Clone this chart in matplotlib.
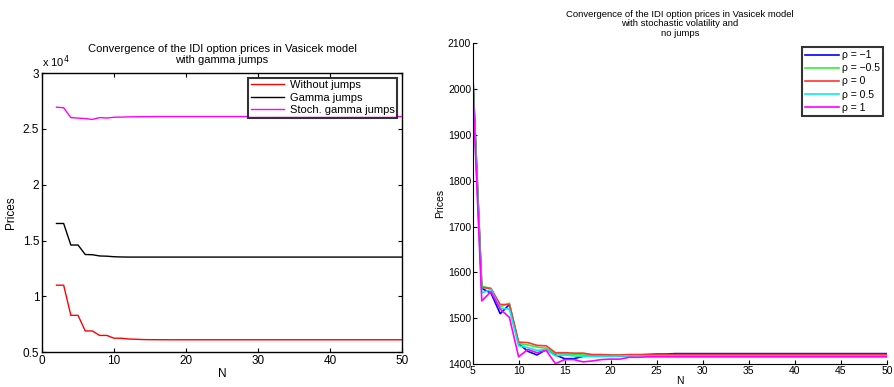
import matplotlib
matplotlib.use("Agg")
import matplotlib.pyplot as plt
from matplotlib.ticker import FuncFormatter

# left panel: IDI option prices with gamma jumps, N = 2..50
n_left = list(range(2, 51))
without_jumps = [11000, 11000, 8300, 8300, 6900, 6900, 6500, 6500, 6250, 6250,
                 6180, 6160, 6130, 6120, 6115, 6112, 6110, 6110, 6110, 6110,
                 6110, 6110, 6110, 6110, 6110, 6110, 6110, 6110, 6110, 6110,
                 6110, 6110, 6110, 6110, 6110, 6110, 6110, 6110, 6110, 6110,
                 6110, 6110, 6110, 6110, 6110, 6110, 6110, 6110, 6110]
gamma_jumps = [16530, 16530, 14600, 14600, 13750, 13730, 13620, 13600, 13550, 13530,
               13520, 13520, 13520, 13520, 13520, 13520, 13520, 13520, 13520, 13520,
               13520, 13520, 13520, 13520, 13520, 13520, 13520, 13520, 13520, 13520,
               13520, 13520, 13520, 13520, 13520, 13520, 13520, 13520, 13520, 13520,
               13520, 13520, 13520, 13520, 13520, 13520, 13520, 13520, 13520]
stoch_gamma = [26950, 26900, 26020, 25970, 25930, 25850, 26020, 25980, 26050, 26060,
               26080, 26090, 26100, 26100, 26110, 26110, 26110, 26110, 26110, 26110,
               26110, 26110, 26110, 26110, 26110, 26110, 26110, 26110, 26110, 26110,
               26110, 26110, 26110, 26110, 26110, 26110, 26110, 26110, 26110, 26110,
               26110, 26110, 26110, 26110, 26110, 26110, 26110, 26110, 26110]
left_labels = ["Without jumps", "Gamma jumps", "Stoch. gamma jumps"]
left_colors = ["#ff0000", "#000000", "#ff00ff"]

# right panel: stochastic volatility, no jumps, N = 5..50
n_right = list(range(5, 51))
rho_m1 = [2045, 1565, 1555, 1510, 1530, 1445, 1428, 1420, 1432, 1420,
          1412, 1412, 1417, 1418, 1418, 1418, 1418, 1419, 1420, 1421,
          1422, 1422, 1423, 1423, 1423, 1423, 1423, 1423, 1423, 1423,
          1423, 1423, 1423, 1423, 1423, 1423, 1423, 1423, 1423, 1423,
          1423, 1423, 1423, 1423, 1423, 1423]
rho_m05 = [2040, 1570, 1565, 1525, 1533, 1445, 1442, 1437, 1435, 1423,
           1422, 1421, 1420, 1420, 1420, 1419, 1420, 1420, 1420, 1420,
           1420, 1420, 1420, 1420, 1420, 1420, 1420, 1420, 1420, 1420,
           1420, 1420, 1420, 1420, 1420, 1420, 1420, 1420, 1420, 1420,
           1420, 1420, 1420, 1420, 1420, 1420]
rho_0 = [2030, 1567, 1565, 1530, 1530, 1448, 1447, 1441, 1440, 1425,
         1425, 1424, 1424, 1421, 1421, 1420, 1420, 1421, 1421, 1421,
         1421, 1421, 1421, 1421, 1421, 1421, 1421, 1421, 1421, 1421,
         1421, 1421, 1421, 1421, 1421, 1421, 1421, 1421, 1421, 1421,
         1421, 1421, 1421, 1421, 1421, 1421]
rho_05 = [2020, 1555, 1563, 1522, 1520, 1440, 1436, 1430, 1432, 1418,
          1420, 1418, 1417, 1417, 1417, 1417, 1418, 1418, 1418, 1418,
          1418, 1418, 1418, 1418, 1418, 1418, 1418, 1418, 1418, 1418,
          1418, 1418, 1418, 1418, 1418, 1418, 1418, 1418, 1418, 1418,
          1418, 1418, 1418, 1418, 1418, 1418]
rho_1 = [2010, 1538, 1558, 1520, 1502, 1416, 1432, 1425, 1430, 1401,
         1410, 1410, 1405, 1407, 1410, 1411, 1411, 1415, 1415, 1416,
         1416, 1416, 1416, 1416, 1416, 1416, 1416, 1416, 1416, 1416,
         1416, 1416, 1416, 1416, 1416, 1416, 1416, 1416, 1416, 1416,
         1416, 1416, 1416, 1416, 1416, 1416]
right_labels = ["ρ = −1", "ρ = −0.5", "ρ = 0", "ρ = 0.5", "ρ = 1"]
right_colors = ["#0000ff", "#33ee33", "#ff3333", "#00eeee", "#ff00ff"]

plt.rcParams["font.family"] = ["Liberation Sans", "DejaVu Sans"]

fig = plt.figure(figsize=(8.95, 3.87), dpi=100)

# ---- left
ax1 = fig.add_axes([0.047, 0.090, 0.402, 0.721])
for ys, lab, col in zip([without_jumps, gamma_jumps, stoch_gamma], left_labels, left_colors):
    ax1.plot(n_left, ys, color=col, lw=1.0, label=lab)
ax1.set_xlim(0, 50)
ax1.set_ylim(5000, 30000)
ax1.set_xticks(range(0, 51, 10))
ax1.set_yticks([5000, 10000, 15000, 20000, 25000, 30000])
ax1.yaxis.set_major_formatter(FuncFormatter(lambda v, p: "%g" % (v / 1e4)))
ax1.text(0.0, 1.01, "x 10$^4$", transform=ax1.transAxes, fontsize=8,
         ha="left", va="bottom")
ax1.tick_params(direction="in", top=True, right=True, labelsize=8.5, length=3, pad=2)
for s in ax1.spines.values():
    s.set_linewidth(1.0)
ax1.set_xlabel("N", fontsize=8.5, labelpad=1)
ax1.set_ylabel("Prices", fontsize=8.5, labelpad=4)
ax1.set_title("Convergence of the IDI option prices in Vasicek model\nwith gamma jumps",
              fontsize=8, pad=7, linespacing=1.2)
leg1 = ax1.legend(loc="upper right", fontsize=8, frameon=True, fancybox=False,
                  edgecolor="black", borderpad=0.25, labelspacing=0.2,
                  handlelength=3.0, handletextpad=0.5, borderaxespad=0.4)
leg1.get_frame().set_linewidth(1.5)

# ---- right
ax2 = fig.add_axes([0.528, 0.059, 0.463, 0.830])
for ys, lab, col in zip([rho_m1, rho_m05, rho_0, rho_05, rho_1], right_labels, right_colors):
    ax2.plot(n_right, ys, color=col, lw=1.2, label=lab)
ax2.set_xlim(5, 50)
ax2.set_ylim(1400, 2100)
ax2.set_xticks(range(5, 51, 5))
ax2.set_yticks(range(1400, 2101, 100))
ax2.spines["top"].set_visible(False)
ax2.spines["right"].set_visible(False)
ax2.tick_params(direction="in", labelsize=7.5, length=3, pad=1)
ax2.set_xlabel("N", fontsize=7.5, labelpad=0)
ax2.set_ylabel("Prices", fontsize=7.5, labelpad=2)
ax2.set_title("Convergence of the IDI option prices in Vasicek model\nwith stochastic volatility and\nno jumps",
              fontsize=6.8, pad=5, linespacing=1.1)
leg2 = ax2.legend(loc="upper right", fontsize=7.5, frameon=True, fancybox=False,
                  edgecolor="black", borderpad=0.3, labelspacing=0.3,
                  handlelength=3.2, handletextpad=0.3, borderaxespad=0.4)
leg2.get_frame().set_linewidth(1.5)

fig.savefig("out.png", dpi=100)
